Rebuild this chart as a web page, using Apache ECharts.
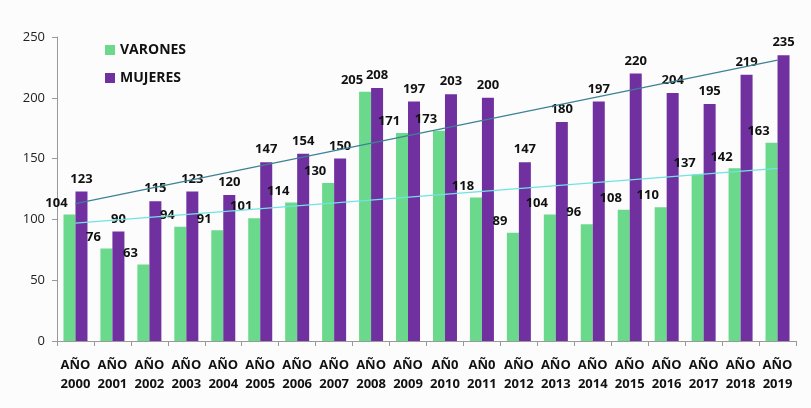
<!DOCTYPE html>
<html>
<head>
<meta charset="utf-8">
<script src="https://cdn.jsdelivr.net/npm/echarts@6/dist/echarts.min.js"></script>
<style>html,body{margin:0;padding:0;background:#fcfcfc}#c{width:811px;height:408px}</style>
</head>
<body>
<div id="c"></div>
<script>
const categories = ['AÑO\n2000','AÑO\n2001','AÑO\n2002','AÑO\n2003','AÑO\n2004','AÑO\n2005','AÑO\n2006','AÑO\n2007','AÑO\n2008','AÑO\n2009','AÑ0\n2010','AÑ0\n2011','AÑO\n2012','AÑO\n2013','AÑO\n2014','AÑO\n2015','AÑO\n2016','AÑO\n2017','AÑO\n2018','AÑO\n2019'];
const varones = [104,76,63,94,91,101,114,130,205,171,173,118,89,104,96,108,110,137,142,163];
const mujeres = [123,90,115,123,120,147,154,150,208,197,203,200,147,180,197,220,204,195,219,235];
// trend line endpoints: [category index, value]
const trendMujeres = [[0,113],[19,231]];
const trendVarones = [[0,97],[19,142]];
const yTicks = {min:0, max:250, interval:50};

const FONT = '"Open Sans", "Noto Sans", sans-serif';
const chart = echarts.init(document.getElementById('c'));
chart.setOption({
  backgroundColor:'#fcfcfc',
  animation:false,
  textStyle:{fontFamily:FONT},
  grid:{left:57,right:15,top:37,bottom:67,containLabel:false},
  legend:{
    data:['VARONES','MUJERES'],
    orient:'vertical', left:100, top:38, itemGap:14,
    icon:'rect', itemWidth:10, itemHeight:10,
    textStyle:{fontFamily:FONT,fontWeight:'bold',fontSize:14,color:'#111'}
  },
  xAxis:{
    type:'category', data:categories, boundaryGap:true,
    axisLine:{lineStyle:{color:'#999'}},
    axisTick:{show:true,alignWithLabel:false,length:5,lineStyle:{color:'#999'}},
    axisLabel:{fontFamily:FONT,fontWeight:'bold',fontSize:13,color:'#111',margin:15,lineHeight:19,interval:0}
  },
  yAxis:{
    type:'value', min:yTicks.min, max:yTicks.max, interval:yTicks.interval,
    splitLine:{show:false},
    axisLine:{show:true,lineStyle:{color:'#999'}},
    axisTick:{show:true,length:5,lineStyle:{color:'#999'}},
    axisLabel:{fontFamily:FONT,fontSize:13,color:'#222',margin:12}
  },
  series:[
    {name:'VARONES',type:'bar',data:varones,barWidth:12,barGap:'0%',
     itemStyle:{color:'#6bd98b'},
     label:{show:true,position:'top',distance:5,offset:[-13,0],fontFamily:FONT,fontWeight:'bold',fontSize:13,color:'#111'}},
    {name:'MUJERES',type:'bar',data:mujeres,barWidth:12,barGap:'0%',
     itemStyle:{color:'#7030a0'},
     label:{show:true,position:'top',distance:6,fontFamily:FONT,fontWeight:'bold',fontSize:13,color:'#111'}},
    {name:'trendM',type:'line',data:trendMujeres,symbol:'none',silent:true,
     lineStyle:{color:'#3d8294',width:1.3},z:5},
    {name:'trendV',type:'line',data:trendVarones,symbol:'none',silent:true,
     lineStyle:{color:'#70e3e3',width:1.3},z:5}
  ]
});
</script>
</body>
</html>
